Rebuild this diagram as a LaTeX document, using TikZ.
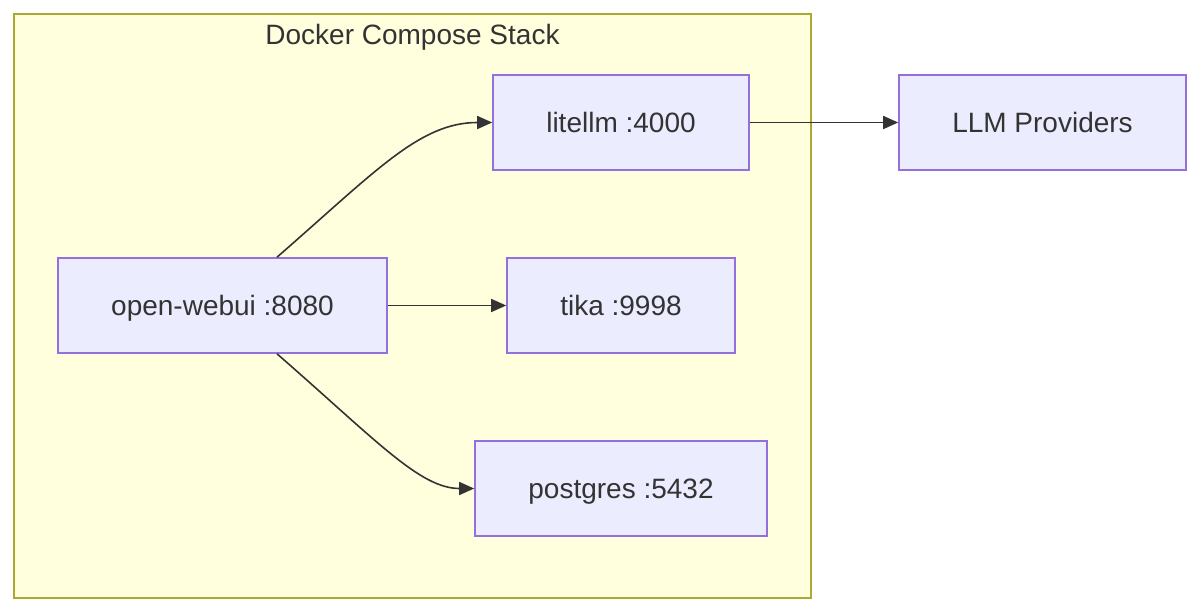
\documentclass[tikz,border=0pt]{standalone}
\usepackage{fontspec}
\setmainfont{Liberation Sans}
\usetikzlibrary{arrows.meta}
\definecolor{clfill}{HTML}{FFFFDE}
\definecolor{clstroke}{HTML}{AAAA33}
\definecolor{ndfill}{HTML}{ECECFF}
\definecolor{ndstroke}{HTML}{9370DB}
\definecolor{txt}{HTML}{333333}
\begin{document}
\begin{tikzpicture}[x=1pt,y=-1pt,
  lbl/.style={text=txt,font=\fontsize{28}{34}\selectfont,text height=20pt,text depth=0pt},
  box/.style={lbl,draw=ndstroke,fill=ndfill,line width=1.6pt,rectangle,minimum height=95pt,inner sep=0pt},
  edge/.style={draw=txt,line width=1.6pt,-{Triangle[length=15pt,width=13pt]}}]
\useasboundingbox (0,0) rectangle (1200,612);
\draw[draw=clstroke,fill=clfill,line width=1.6pt] (14,14) rectangle (811,598);
\node[lbl,inner sep=0pt] (title) at (412.5,35) {Docker Compose Stack};
\node[box,minimum width=256pt] (lit) at (621,122.5) {litellm :4000};
\node[box,minimum width=287pt] (llm) at (1042.5,122.5) {LLM Providers};
\node[box,minimum width=329pt] (ow) at (222.5,305.5) {open-webui :8080};
\node[box,minimum width=228pt] (tika) at (621,305.5) {tika :9998};
\node[box,minimum width=292pt] (pg) at (621,488.5) {postgres :5432};
\draw[edge] (lit.east) -- (llm.west);
\draw[edge] (ow.east) -- (tika.west);
\draw[edge] ([xshift=54.5pt]ow.north) .. controls (377,170) and (420,122.5) .. (lit.west);
\draw[edge] ([xshift=54.5pt]ow.south) .. controls (377,441) and (420,488.5) .. (pg.west);
\end{tikzpicture}
\end{document}
